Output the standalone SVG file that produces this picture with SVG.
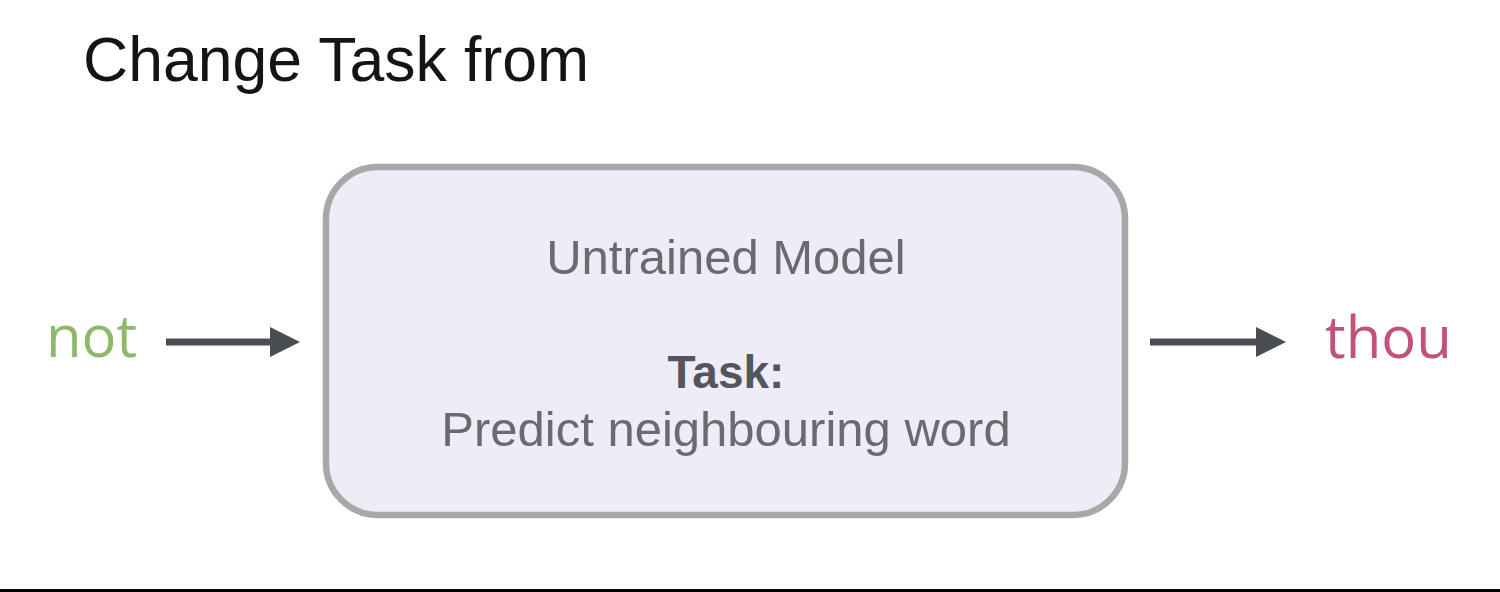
<svg xmlns="http://www.w3.org/2000/svg" width="1500" height="592" viewBox="0 0 1500 592">
  <defs>
    <style>
      .title { font-family: "Liberation Sans", Arial, sans-serif; font-size: 62.5px; fill: #141414; }
      .box { fill: #eeedf7; stroke: #a8a8aa; stroke-width: 6.5; }
      .lbl { font-family: "Liberation Sans", Arial, sans-serif; font-size: 49px; fill: #6a6a70; text-anchor: middle; }
      .bold { font-family: "Liberation Sans", Arial, sans-serif; font-size: 46px; font-weight: bold; fill: #55555d; text-anchor: middle; }
      .word { font-family: "Open Sans", "Noto Sans", sans-serif; font-size: 58px; }
      .conn { stroke: #4a4d52; stroke-width: 7; fill: none; }
      .head { fill: #4a4d52; }
    </style>
  </defs>
  <rect x="0" y="0" width="1500" height="592" fill="#ffffff"/>
  <text class="title" x="83" y="81">Change Task from</text>

  <g id="model">
    <rect class="box" x="326" y="167" width="799" height="348" rx="52" ry="52"/>
    <text class="lbl" x="726" y="274">Untrained Model</text>
    <text class="bold" x="726" y="388">Task:</text>
    <text class="lbl" x="726" y="446">Predict neighbouring word</text>
  </g>

  <g id="input">
    <text class="word" x="46" y="357" fill="#8fb86a">not</text>
  </g>

  <g id="output">
    <text class="word" x="1325" y="358" fill="#c2527d">thou</text>
  </g>

  <g id="connectors">
    <line class="conn" x1="166" y1="342" x2="274" y2="342"/>
    <polygon class="head" points="270,327 300,342 270,357"/>
    <line class="conn" x1="1150" y1="342" x2="1260" y2="342"/>
    <polygon class="head" points="1256,327 1286,342 1256,357"/>
  </g>

  <rect x="0" y="589" width="1500" height="3" fill="#000000"/>
</svg>
